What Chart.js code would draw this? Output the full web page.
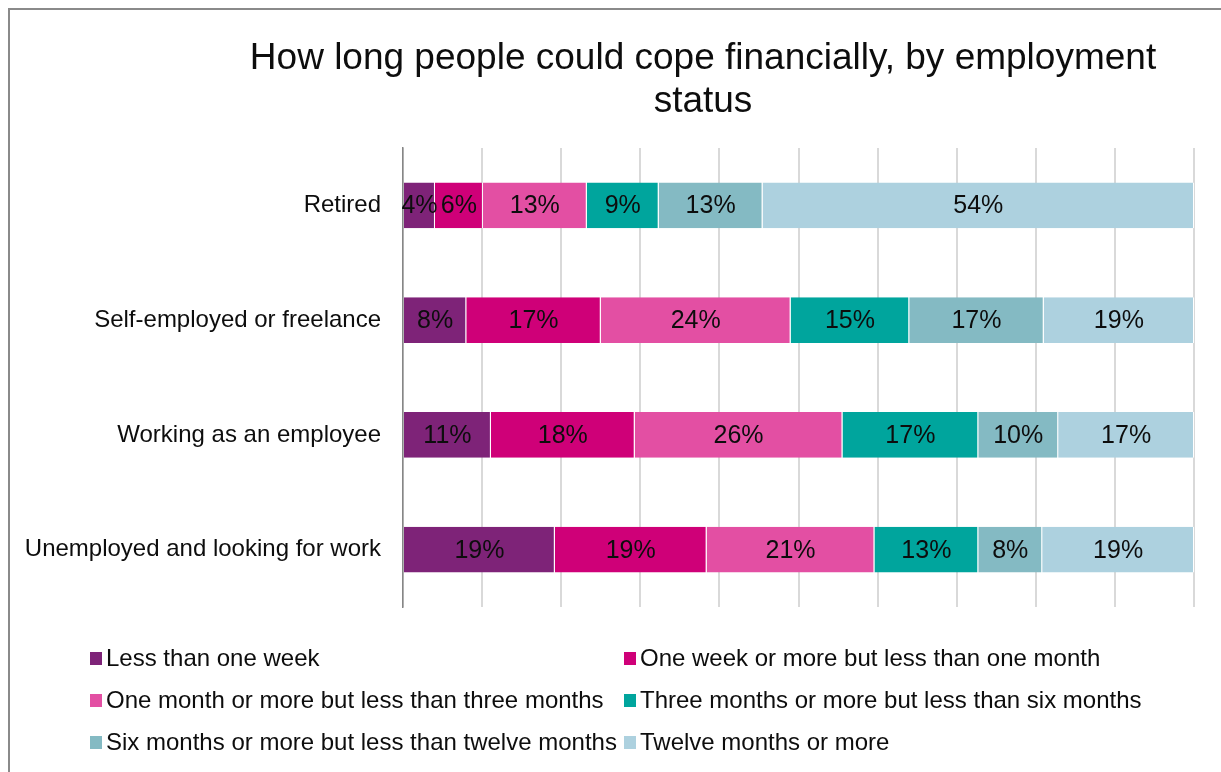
<!DOCTYPE html>
<html>
<head>
<meta charset="utf-8">
<script src="https://cdn.jsdelivr.net/npm/chart.js@4.4.1/dist/chart.umd.min.js"></script>
<style>
  html, body { margin: 0; padding: 0; background: #fff; overflow: hidden; }
  #frame {
    position: absolute; left: 8px; top: 8px; width: 1260px; height: 820px;
    border-left: 2px solid #8a8a8a; border-top: 2px solid #8a8a8a;
  }
  #wrap { position: absolute; left: 0; top: 0; width: 1221px; height: 772px; }
</style>
</head>
<body>
<div id="frame"></div>
<div id="wrap"><canvas id="copeChart" width="1221" height="772"></canvas></div>
<script>
'use strict';

const categories = ['Retired', 'Self-employed or freelance', 'Working as an employee', 'Unemployed and looking for work']

const seriesNames = [
    'Less than one week',
    'One week or more but less than one month',
    'One month or more but less than three months',
    'Three months or more but less than six months',
    'Six months or more but less than twelve months',
    'Twelve months or more'
]

// percentages per category, in the same order as categories
const lessThanWeek = [4, 8, 11, 19]
const weekToMonth = [6, 17, 18, 19]
const monthToThree = [13, 24, 26, 21]
const threeToSix = [9, 15, 17, 13]
const sixToTwelve = [13, 17, 10, 8]
const twelvePlus = [54, 19, 17, 19]

const seriesValues = [lessThanWeek, weekToMonth, monthToThree, threeToSix, sixToTwelve, twelvePlus]
const seriesColors = ['#7e2378', '#cf0078', '#e34fa3', '#00a59d', '#84bac3', '#add1df']

const FONT = '"Liberation Sans", Arial, sans-serif'

// each bar is a 100% stack, so scale every row by its own total
const rowTotals = categories.map((c, i) => seriesValues.reduce((s, arr) => s + arr[i], 0))

const datasets = seriesValues.map((values, k) => ({
    label: seriesNames[k],
    data: values.map((v, i) => v / rowTotals[i] * 100),
    raw: values,
    backgroundColor: seriesColors[k],
    borderColor: '#ffffff',
    borderWidth: { top: 0, bottom: 0, left: 0, right: 1 },
    borderSkipped: false,
    barPercentage: 0.4,
    categoryPercentage: 1
}))

// title, centred over the plot rather than the canvas
const titlePlugin = {
    id: 'twoLineTitle',
    afterDraw(chart) {
        const ctx = chart.ctx
        ctx.save()
        ctx.fillStyle = '#0d0d0d'
        ctx.font = `37px ${FONT}`
        ctx.textAlign = 'center'
        ctx.textBaseline = 'alphabetic'
        ctx.fillText('How long people could cope financially, by employment', 703, 69)
        ctx.fillText('status', 703, 112)
        ctx.restore()
    }
}

// value labels in the middle of each segment
const segmentLabels = {
    id: 'segmentLabels',
    afterDatasetsDraw(chart) {
        const ctx = chart.ctx
        ctx.save()
        ctx.fillStyle = '#0d0d0d'
        ctx.font = `25px ${FONT}`
        ctx.textAlign = 'center'
        ctx.textBaseline = 'middle'
        chart.data.datasets.forEach((ds, k) => {
            chart.getDatasetMeta(k).data.forEach((bar, i) => {
                const mid = (bar.x + bar.base) / 2
                ctx.fillText(ds.raw[i] + '%', mid, bar.y + 1)
            })
        })
        ctx.restore()
    }
}

// legend in two columns under the plot
const legendSpots = [[90, 658], [624, 658], [90, 700], [624, 700], [90, 742], [624, 742]]

const gridLegend = {
    id: 'gridLegend',
    afterDraw(chart) {
        const ctx = chart.ctx
        ctx.save()
        ctx.font = `24px ${FONT}`
        ctx.textBaseline = 'middle'
        ctx.textAlign = 'left'
        chart.data.datasets.forEach((ds, k) => {
            const [x, y] = legendSpots[k]
            ctx.fillStyle = ds.backgroundColor
            ctx.fillRect(x, y - 6, 12, 13)
            ctx.fillStyle = '#0d0d0d'
            ctx.fillText(ds.label, x + 16, y + 1)
        })
        ctx.restore()
    }
}

const copeChart = new Chart(document.getElementById('copeChart'), {
    type: 'bar',
    data: {
        labels: categories,
        datasets: datasets
    },
    options: {
        indexAxis: 'y',
        responsive: false,
        animation: false,
        devicePixelRatio: 1,
        layout: {
            padding: { left: 0, top: 148, right: 27, bottom: 165 }
        },
        plugins: {
            legend: { display: false },
            title: { display: false },
            tooltip: { enabled: false }
        },
        scales: {
            x: {
                stacked: true,
                min: 0,
                max: 100,
                ticks: { display: false, stepSize: 10 },
                grid: { color: '#d9d9d9', lineWidth: 2, drawTicks: false },
                border: { display: false },
                afterFit(scale) { scale.height = 0 }
            },
            y: {
                stacked: true,
                grid: { display: false, drawTicks: false },
                border: { display: true, color: '#868686', width: 1.5 },
                ticks: {
                    color: '#0d0d0d',
                    padding: 22,
                    font: { family: FONT, size: 24 }
                },
                afterFit(scale) { scale.width = 403 }
            }
        }
    },
    plugins: [titlePlugin, segmentLabels, gridLegend]
});
</script>
</body>
</html>
